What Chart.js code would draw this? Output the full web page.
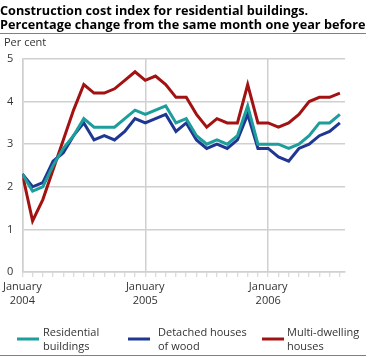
<!DOCTYPE html>
<html>
<head>
<meta charset="utf-8">
<script src="https://cdn.jsdelivr.net/npm/chart.js@4/dist/chart.umd.min.js"></script>
<style>
  html, body { margin: 0; padding: 0; background: #fff; }
  canvas { display: block; }
</style>
</head>
<body>
<canvas id="c" width="369" height="357"></canvas>
<script>
// ---- data ----
const titleLines = ['Construction cost index for residential buildings.', 'Percentage change from the same month one year before'];
const yAxisTitle = 'Per cent';
const months = [
  '2004-01','2004-02','2004-03','2004-04','2004-05','2004-06','2004-07','2004-08','2004-09','2004-10','2004-11','2004-12',
  '2005-01','2005-02','2005-03','2005-04','2005-05','2005-06','2005-07','2005-08','2005-09','2005-10','2005-11','2005-12',
  '2006-01','2006-02','2006-03','2006-04','2006-05','2006-06','2006-07','2006-08'
];
const januaryLabels = [['January', '2004'], ['January', '2005'], ['January', '2006']];
const seriesNames = ['Residential\nbuildings', 'Detached houses\nof wood', 'Multi-dwelling\nhouses'];
const residential = [2.3, 1.9, 2.0, 2.5, 2.9, 3.2, 3.6, 3.4, 3.4, 3.4, 3.6, 3.8,
                     3.7, 3.8, 3.9, 3.5, 3.6, 3.2, 3.0, 3.1, 3.0, 3.2, 3.9, 3.0,
                     3.0, 3.0, 2.9, 3.0, 3.2, 3.5, 3.5, 3.7];
const detached    = [2.3, 2.0, 2.1, 2.6, 2.8, 3.2, 3.5, 3.1, 3.2, 3.1, 3.3, 3.6,
                     3.5, 3.6, 3.7, 3.3, 3.5, 3.1, 2.9, 3.0, 2.9, 3.1, 3.7, 2.9,
                     2.9, 2.7, 2.6, 2.9, 3.0, 3.2, 3.3, 3.5];
const multiDwelling = [2.3, 1.2, 1.7, 2.4, 3.1, 3.8, 4.4, 4.2, 4.2, 4.3, 4.5, 4.7,
                       4.5, 4.6, 4.4, 4.1, 4.1, 3.7, 3.4, 3.6, 3.5, 3.5, 4.4, 3.5,
                       3.5, 3.4, 3.5, 3.7, 4.0, 4.1, 4.1, 4.2];
const yTicks = [0, 1, 2, 3, 4, 5];

// ---- styling ----
const FONT = "'Open Sans', sans-serif";
const colors = ['#1d9e9c', '#1f3792', '#a31212'];
const gridColor = '#d0d0d0';
const clear = 'rgba(0,0,0,0)';

const toPoints = arr => arr.map((v, i) => ({ x: i, y: v }));
const allSeries = [residential, detached, multiDwelling];

const decor = {
  id: 'decor',
  afterDraw(chart) {
    const ctx = chart.ctx;
    ctx.save();
    // title
    ctx.fillStyle = '#000';
    ctx.font = 'bold 12.7px ' + FONT;
    ctx.textBaseline = 'alphabetic';
    ctx.textAlign = 'left';
    ctx.fillText(titleLines[0], 0, 15);
    ctx.fillText(titleLines[1], 0, 28.5);
    // rules
    ctx.strokeStyle = '#808080';
    ctx.lineWidth = 1;
    ctx.beginPath();
    ctx.moveTo(0, 33.5); ctx.lineTo(366, 33.5);
    ctx.moveTo(0, 355.5); ctx.lineTo(366, 355.5);
    ctx.stroke();
    // y-axis title
    ctx.fillStyle = '#333';
    ctx.font = '11px ' + FONT;
    ctx.textBaseline = 'middle';
    ctx.fillText(yAxisTitle, 4, 43);
    // legend
    const sampleX = [17, 128, 262];
    const textX = [43, 158, 287];
    chart.data.datasets.forEach((ds, i) => {
      ctx.strokeStyle = ds.borderColor;
      ctx.lineWidth = 3;
      ctx.beginPath();
      ctx.moveTo(sampleX[i], 339);
      ctx.lineTo(sampleX[i] + 22, 339);
      ctx.stroke();
      const lines = ds.label.split('\n');
      ctx.fillStyle = '#333';
      lines.forEach((t, k) => ctx.fillText(t, textX[i], 333 + k * 14));
    });
    ctx.restore();
  }
};

new Chart(document.getElementById('c'), {
  type: 'line',
  data: {
    datasets: allSeries.map((s, i) => ({
      label: seriesNames[i],
      data: toPoints(s),
      borderColor: colors[i],
      backgroundColor: colors[i],
      borderWidth: 3,
      pointRadius: 0,
      tension: 0,
      fill: false
    }))
  },
  options: {
    responsive: false,
    devicePixelRatio: 1,
    animation: false,
    events: [],
    layout: { padding: { left: 0, right: 24, top: 59, bottom: 45 } },
    plugins: { legend: { display: false }, title: { display: false }, tooltip: { enabled: false } },
    scales: {
      x: {
        type: 'linear',
        min: 0,
        max: months.length - 0.5,
        afterFit: s => { s.height = 40; },
        afterBuildTicks: s => { s.ticks = months.map((m, i) => ({ value: i })); },
        border: { color: gridColor, width: 1.5 },
        grid: {
          color: c => (c.tick && c.tick.value % 12 === 0) ? gridColor : clear,
          lineWidth: 1.5,
          tickColor: gridColor,
          tickLength: 5,
          tickWidth: 1
        },
        ticks: {
          autoSkip: false,
          maxRotation: 0,
          padding: 3,
          color: '#333',
          font: { family: FONT, size: 11, lineHeight: 1.25 },
          callback: v => (v % 12 === 0 ? januaryLabels[v / 12] : '')
        }
      },
      y: {
        min: 0,
        max: 5,
        afterFit: s => { s.width = 20; },
        afterBuildTicks: s => { s.ticks = yTicks.map(v => ({ value: v })); },
        border: { color: gridColor, width: 1.5 },
        grid: { color: gridColor, lineWidth: 1.5, drawTicks: false },
        ticks: {
          padding: 9,
          color: '#333',
          font: { family: FONT, size: 11 }
        }
      }
    }
  },
  plugins: [decor]
});
</script>
</body>
</html>
